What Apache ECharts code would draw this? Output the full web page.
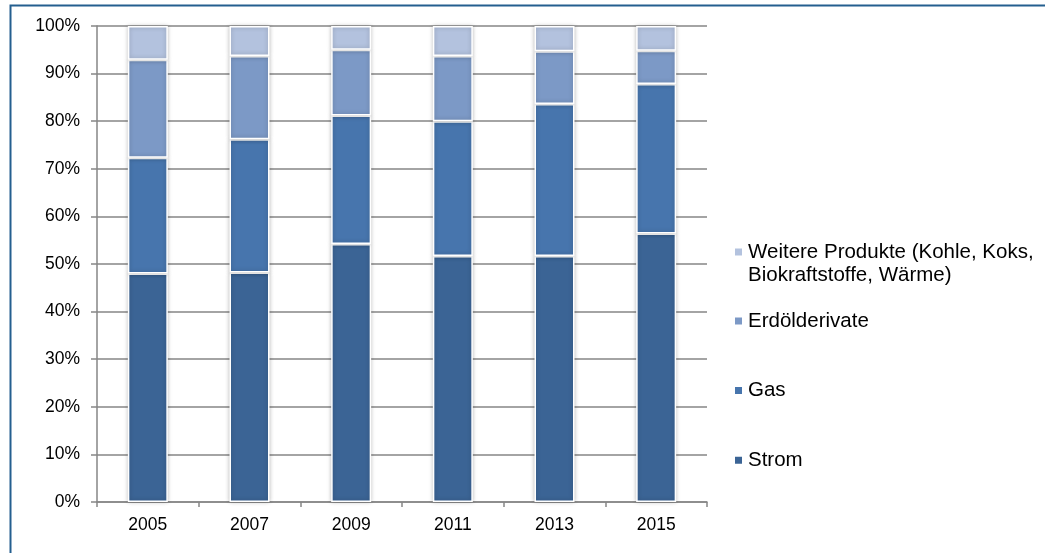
<!DOCTYPE html>
<html>
<head>
<meta charset="utf-8">
<script src="https://cdn.jsdelivr.net/npm/echarts@6/dist/echarts.min.js"></script>
<style>
html,body{margin:0;padding:0;background:#fff;}
#c{width:1045px;height:553px;}
</style>
</head>
<body>
<div id="c"></div>
<script>
const years = ['2005', '2007', '2009', '2011', '2013', '2015'];
const strom = [48.0, 48.2, 54.2, 51.7, 51.7, 56.4];
const gas = [24.3, 28.0, 27.0, 28.3, 31.9, 31.4];
const erdoel = [20.6, 17.5, 13.8, 13.7, 11.1, 7.0];
const weitere = [7.1, 6.3, 5.0, 6.3, 5.3, 5.2];
const yTicks = { min: 0, max: 100, interval: 10 };

const names = ['Strom', 'Gas', 'Erdölderivate', 'Weitere Produkte (Kohle, Koks,\nBiokraftstoffe, Wärme)'];
const colors = ['#3b6495', '#4775ad', '#7c99c6', '#b3c2de'];
const values = [strom, gas, erdoel, weitere];

const font = "'Liberation Sans', Arial, sans-serif";
const chart = echarts.init(document.getElementById('c'), null, { renderer: 'canvas' });

function legendFor(i, top, extra) {
  return Object.assign({
    data: [names[i]],
    left: 733, top: top, padding: 0,
    icon: 'rect', itemWidth: 9, itemHeight: 9,
    selectedMode: false,
    textStyle: { fontFamily: font, fontSize: 20.5, color: '#000', lineHeight: 23 }
  }, extra || {});
}

chart.setOption({
  animation: false,
  backgroundColor: '#fff',
  color: colors,
  graphic: [{
    type: 'rect', left: 8, top: 3, silent: true,
    shape: { x: 0, y: 0, width: 1200, height: 700 },
    style: { fill: 'none', stroke: '#245f8f', lineWidth: 2 }
  }],
  grid: { left: 97, right: 338, top: 26, bottom: 51, containLabel: false },
  legend: [
    legendFor(3, 217.5, { formatter: (n) => '\u00a0\n' + n }),
    legendFor(2, 309.5),
    legendFor(1, 379),
    legendFor(0, 448.8)
  ],
  xAxis: {
    type: 'category', data: years,
    axisLine: { lineStyle: { color: '#868686', width: 1.5 } },
    axisTick: { show: true, alignWithLabel: false, length: 5, lineStyle: { color: '#868686', width: 1.5 } },
    axisLabel: { fontFamily: font, fontSize: 17.5, color: '#000', margin: 14 }
  },
  yAxis: {
    type: 'value', min: yTicks.min, max: yTicks.max, interval: yTicks.interval,
    axisLine: { show: true, lineStyle: { color: '#868686', width: 1.5 } },
    axisTick: { show: true, length: 6, lineStyle: { color: '#868686', width: 1.5 } },
    splitLine: { lineStyle: { color: '#868686', width: 1.5 } },
    axisLabel: { fontFamily: font, fontSize: 17.5, color: '#000', margin: 17, formatter: '{value}%' }
  },
  series: names.map((n, i) => ({
    name: n, type: 'bar', stack: 'total', data: values[i],
    barWidth: 40,
    itemStyle: {
      color: colors[i], borderColor: '#fff', borderWidth: 1.5,
      shadowBlur: 4, shadowColor: 'rgba(0,0,0,0.25)'
    }
  }))
});
</script>
</body>
</html>
